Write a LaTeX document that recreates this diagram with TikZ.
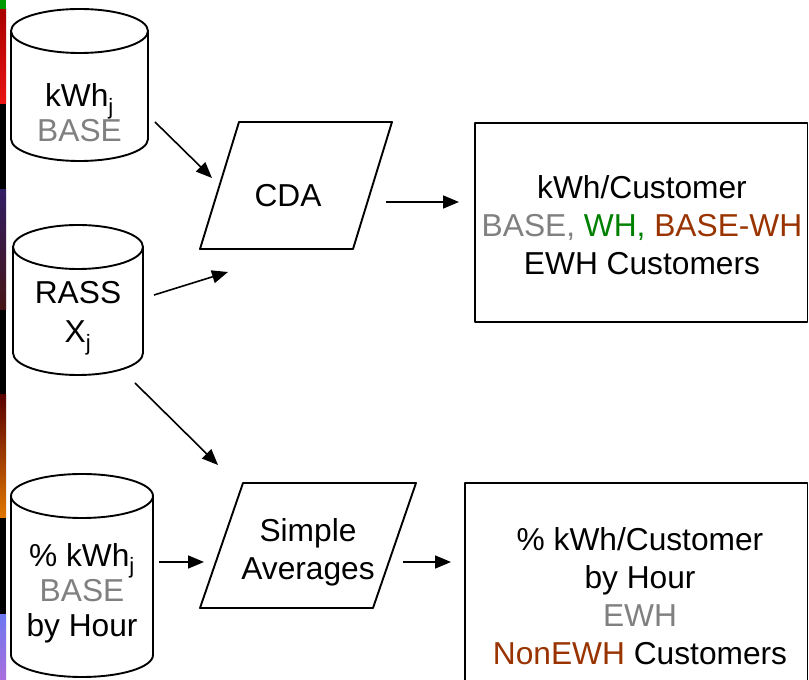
\documentclass[tikz,border=0pt]{standalone}
\usepackage{fontspec}
\setmainfont{Liberation Sans}
\usetikzlibrary{arrows.meta}
\definecolor{basegray}{RGB}{128,128,128}
\definecolor{whgreen}{RGB}{0,128,0}
\definecolor{rust}{RGB}{153,51,0}
\tikzset{
  shapeline/.style={draw=black, line width=1.9pt, line join=round},
  txt/.style={inner sep=0pt, align=center, font=\fontsize{31.7}{38}\selectfont},
  cyltxt/.style={inner sep=0pt, align=center, font=\fontsize{31.7}{35}\selectfont},
  conn/.style={line width=1.6pt, -{Triangle[length=16pt,width=13pt]}}
}
\begin{document}
\begin{tikzpicture}[x=1pt,y=1pt]
\useasboundingbox (0,0) rectangle (809,680);
\fill[white] (0,0) rectangle (809,680);
% left strip (image fragment)
\fill[green!60!black] (0,670) rectangle (6,680);
\shade[top color={rgb,255:red,170;green,0;blue,0}, bottom color={rgb,255:red,235;green,20;blue,20}] (0,576) rectangle (6,670);
\fill[black] (0,490) rectangle (6,576);
\shade[top color={rgb,255:red,50;green,30;blue,100}, bottom color={rgb,255:red,70;green,20;blue,20}] (0,370) rectangle (6,490);
\fill[black] (0,285) rectangle (6,370);
\shade[top color={rgb,255:red,90;green,0;blue,0}, bottom color={rgb,255:red,225;green,120;blue,0}] (0,162) rectangle (6,285);
\fill[black] (0,65) rectangle (6,162);
\shade[top color={rgb,255:red,110;green,120;blue,240}, bottom color={rgb,255:red,170;green,110;blue,220}] (0,0) rectangle (6,65);

% cylinder 1
\draw[shapeline] (11,649) -- (11,541) arc[start angle=180,end angle=360,x radius=68.5,y radius=22] -- (148,649) arc[start angle=0,end angle=180,x radius=68.5,y radius=22] -- cycle;
\draw[shapeline] (11,649) arc[start angle=180,end angle=360,x radius=68.5,y radius=22];
\node[cyltxt] (c1) at (79.5,567) {kWh\textsubscript{j}\\\textcolor{basegray}{BASE}};

% cylinder 2
\draw[shapeline] (13,433) -- (13,327) arc[start angle=180,end angle=360,x radius=65,y radius=22] -- (143,433) arc[start angle=0,end angle=180,x radius=65,y radius=22] -- cycle;
\draw[shapeline] (13,433) arc[start angle=180,end angle=360,x radius=65,y radius=22];
\node[cyltxt] (c2) at (78,362) {RASS\\[4pt]X\textsubscript{j}};

% cylinder 3
\draw[shapeline] (11,184) -- (11,25) arc[start angle=180,end angle=360,x radius=71,y radius=22] -- (153,184) arc[start angle=0,end angle=180,x radius=71,y radius=22] -- cycle;
\draw[shapeline] (11,184) arc[start angle=180,end angle=360,x radius=71,y radius=22];
\node[cyltxt] (c3) at (82,87) {\% kWh\textsubscript{j}\\\textcolor{basegray}{BASE}\\by Hour};

% CDA parallelogram
\draw[shapeline] (239,558) -- (392,558) -- (353,431) -- (200,431) -- cycle;
\node[txt] (cda) at (288,484) {CDA};

% Simple averages parallelogram
\draw[shapeline] (243,197) -- (416,197) -- (373,72) -- (200,72) -- cycle;
\node[txt] (sa) at (308,128) {Simple\\Averages};

% Box 1
\draw[shapeline] (475,557) rectangle (807.5,358);
\node[txt] (b1) at (642,455) {kWh/Customer\\\textcolor{basegray}{BASE,} \textcolor{whgreen}{WH,} \textcolor{rust}{BASE-WH}\\EWH Customers};

% Box 2
\draw[shapeline] (807.5,-5) -- (807.5,197) -- (465,197) -- (465,-5);
\node[txt] (b2) at (640,84) {\% kWh/Customer\\by Hour\\\textcolor{basegray}{EWH}\\\textcolor{rust}{NonEWH} Customers};

% connector end points
\coordinate (a1s) at (155,558); \coordinate (a1e) at (212,502);
\coordinate (a2s) at (154,385); \coordinate (a2e) at (228,408);
\coordinate (a3s) at (386,478); \coordinate (a3e) at (459,478);
\coordinate (a4s) at (135,297); \coordinate (a4e) at (218,215);
\coordinate (a5s) at (159,118); \coordinate (a5e) at (204,118);
\coordinate (a6s) at (403,118); \coordinate (a6e) at (451,118);
\draw[conn] (a1s) -- (a1e);
\draw[conn] (a2s) -- (a2e);
\draw[conn] (a3s) -- (a3e);
\draw[conn] (a4s) -- (a4e);
\draw[conn] (a5s) -- (a5e);
\draw[conn] (a6s) -- (a6e);
\end{tikzpicture}
\end{document}
